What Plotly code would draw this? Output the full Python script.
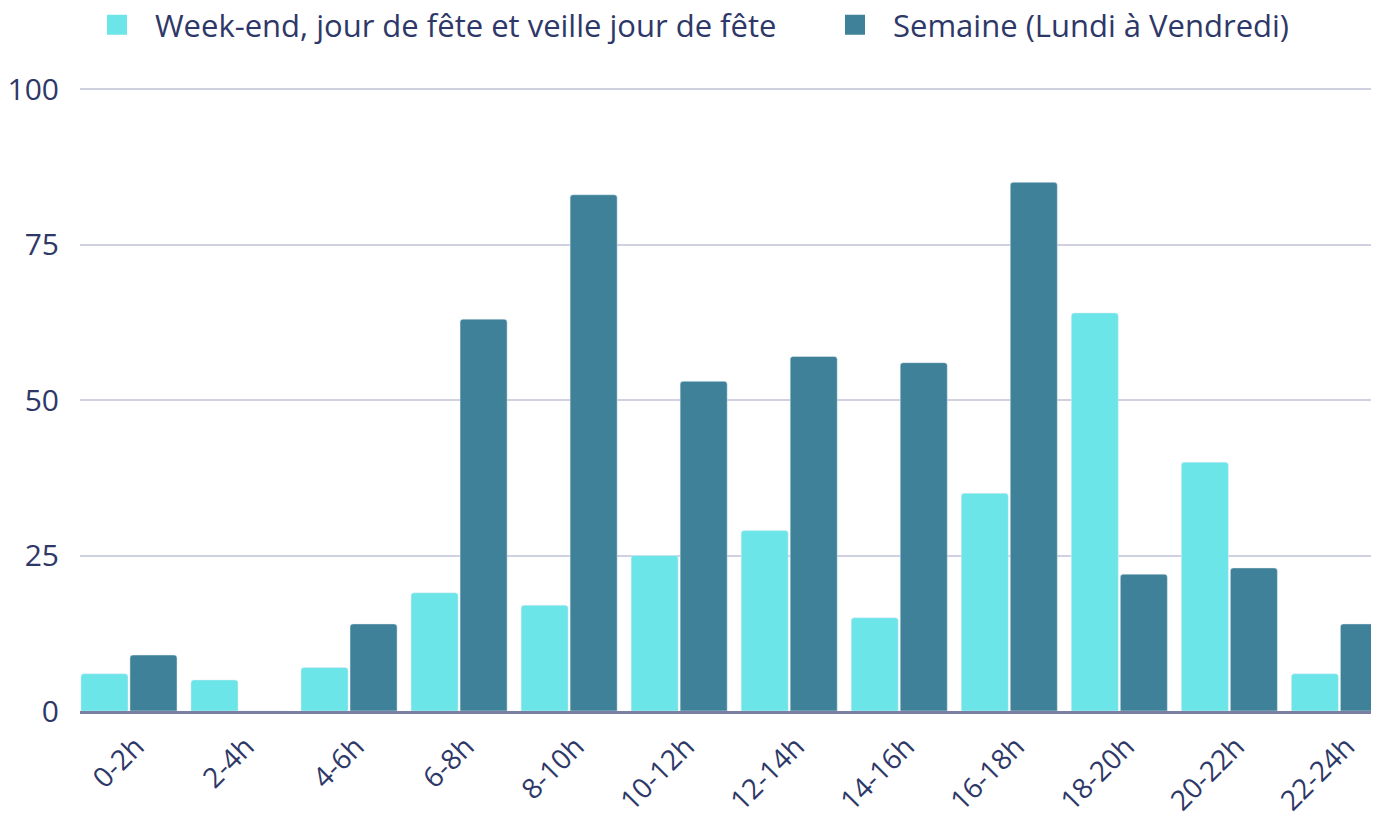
import plotly.graph_objects as go

categories = ["0-2h", "2-4h", "4-6h", "6-8h", "8-10h", "10-12h", "12-14h",
              "14-16h", "16-18h", "18-20h", "20-22h", "22-24h"]
weekend = [6, 5, 7, 19, 17, 25, 29, 15, 35, 64, 40, 6]
semaine = [9, 0, 14, 63, 83, 53, 57, 56, 85, 22, 23, 14]
series_names = ["Week-end, jour de fête et veille jour de fête", "Semaine (Lundi à Vendredi)"]
colors = ["#6be5e8", "#3e8198"]
y_ticks = [0, 25, 50, 75, 100]

text_color = "#2e3868"
font_family = "'Open Sans', Lato, sans-serif"

W, H = 1371, 810  # page body has an 8px margin

fig = go.Figure()
fig.add_trace(go.Bar(x=categories, y=weekend, name=series_names[0], showlegend=False,
                     legendgroup="we", marker=dict(color=colors[0], cornerradius=3)))
fig.add_trace(go.Bar(x=categories, y=semaine, name=series_names[1], showlegend=False,
                     legendgroup="se", marker=dict(color=colors[1], cornerradius=3)))
# legend entries with larger square symbols
fig.add_trace(go.Scatter(x=[None], y=[None], mode="markers", name=series_names[0],
                         legendgroup="we", legend="legend",
                         marker=dict(symbol="square", size=16, color=colors[0],
                                     line=dict(color=colors[0], width=4))))
fig.add_trace(go.Scatter(x=[None], y=[None], mode="markers", name=series_names[1],
                         legendgroup="se", legend="legend2",
                         marker=dict(symbol="square", size=16, color=colors[1],
                                     line=dict(color=colors[1], width=4))))

fig.update_layout(
    width=W, height=H,
    margin=dict(l=72, r=0, t=76, b=107, autoexpand=False),
    paper_bgcolor="white", plot_bgcolor="white",
    font=dict(family=font_family, color=text_color, size=30),
    barmode="group", bargap=0.109, bargroupgap=0.04,
    legend=dict(x=(117 - 8 - 38) / W, xanchor="left", y=1 - (25 - 8) / H, yanchor="middle",
                xref="container", yref="container", itemwidth=66,
                font=dict(size=31), bgcolor="rgba(0,0,0,0)"),
    legend2=dict(x=(855 - 8 - 38) / W, xanchor="left", y=1 - (25 - 8) / H, yanchor="middle",
                 xref="container", yref="container", itemwidth=66,
                 font=dict(size=31), bgcolor="rgba(0,0,0,0)"),
    xaxis=dict(type="category", range=[-0.445, 11.36], showgrid=False,
               showline=True, linecolor="#7b80a3", linewidth=3,
               tickangle=-45, ticks="", ticklabelstandoff=5, ticklabelshift=7,
               tickfont=dict(size=28)),
    yaxis=dict(range=[0, 100.804], tickvals=y_ticks, showgrid=True,
               gridcolor="#cfd0e0", gridwidth=2, zeroline=False,
               showline=False, ticks="", ticklabelstandoff=20, tickfont=dict(size=30)),
)

fig.write_html("out.html")
